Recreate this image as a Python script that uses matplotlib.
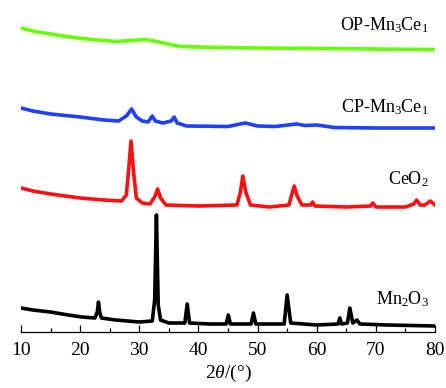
import matplotlib
matplotlib.use("Agg")
import matplotlib.pyplot as plt
from matplotlib.ticker import MultipleLocator

plt.rcParams["font.family"] = ["Liberation Serif", "DejaVu Serif"]
plt.rcParams["mathtext.fontset"] = "custom"
plt.rcParams["mathtext.rm"] = "Liberation Serif"
plt.rcParams["mathtext.it"] = "Liberation Serif:italic"

# 2theta positions / stacked intensities (a.u.)
mn2o3_x = [10, 11, 12, 13.5, 15, 16.5, 18, 20.3, 22.5, 22.9, 23.1, 23.3, 23.6, 26, 28, 30, 32.2,
           32.6, 32.9, 33.2, 33.6, 35, 37.7, 38.1, 38.5, 42, 44.7, 45.05, 45.4, 48.9, 49.3,
           49.7, 54.5, 55.0, 55.6, 60, 63.6, 63.9, 64.2, 65.2, 65.6, 66.1, 66.8, 67.3, 72, 80]
mn2o3_y = [24, 23, 22, 21, 20, 18.5, 17, 15, 14, 20, 30, 20, 14, 12, 11, 10, 11,
           32, 117, 27, 12, 9, 9, 28, 9, 8, 8, 17, 8, 8, 19,
           8, 8, 37, 9, 7, 8, 14, 8, 9, 24, 9, 12, 8, 7, 6]

ceo2_x = [10, 11, 12, 13.5, 15, 17.5, 20, 22, 24, 27, 27.8, 28.2, 28.6, 29.0, 29.5, 30.5, 31.8,
          32.6, 33.1, 33.6, 34.5, 40, 46.5, 47.1, 47.5, 48.0, 48.8, 52, 55.3, 55.8, 56.2,
          56.7, 57.5, 59.0, 59.3, 59.7, 65, 69.1, 69.5, 70, 75, 76.4, 76.9, 77.5, 78.3,
          79.2, 80]
ceo2_y = [144, 142.5, 141, 139.5, 138, 136, 134, 133, 132, 131, 137, 162, 191, 162, 134, 129,
          128, 135, 143, 134, 127, 126, 127, 140, 156, 140, 127, 125, 127, 138, 146,
          136, 127, 127, 130, 126, 125, 126, 129, 125, 125, 128, 132, 127, 127,
          131, 127]

cp_x = [10, 11, 12, 13.5, 15, 17.5, 20, 22, 24, 26.5, 27.8, 28.7, 29.5, 30.5, 31.5, 32.2, 32.7,
        34.0, 35.4, 35.9, 36.4, 38, 45, 47.9, 50, 53, 56.6, 58, 60, 63, 70, 80]
cp_y = [224, 222.5, 221, 219.5, 218, 216.5, 215, 213.5, 212, 211, 216, 223, 215, 211, 210,
        216, 211, 209, 211, 215, 209, 206, 205.5, 209, 206, 205.5, 208, 206.5, 207,
        204.5, 204, 204]

op_x = [10, 11, 12, 13.3, 14.6, 17, 20.3, 23, 26, 28.5, 31, 32.5, 34.4, 37, 40, 45, 50, 60,
        70, 80]
op_y = [304, 302.5, 301, 299.5, 298.5, 296, 293.5, 292, 290.5, 291.5, 292.5, 291, 288.5,
        285.5, 285, 284.5, 284, 283.5, 283, 282.5]

sample_labels = ["OP-Mn$_3$Ce$_1$", "CP-Mn$_3$Ce$_1$", "CeO$_2$", "Mn$_2$O$_3$"]
label_heights = [302, 220, 148, 28]


def main() -> None:
    fig = plt.figure(figsize=(4.46, 3.88), dpi=100)
    ax = fig.add_axes([21 / 446, 56 / 388, 414 / 446, 332 / 388])

    traces = [
        (op_x, op_y, "#66ff00"),
        (cp_x, cp_y, "#1f40ff"),
        (ceo2_x, ceo2_y, "#ff1010"),
        (mn2o3_x, mn2o3_y, "#000000"),
    ]
    for x, y, color in traces:
        ax.plot(x, y, color=color, linewidth=2.6, solid_joinstyle="round")

    for text, height in zip(sample_labels, label_heights):
        ax.text(79.0, height, text, ha="right", va="baseline", fontsize=13)

    ax.set_xlim(10, 80)
    ax.set_ylim(0, 332)
    for side in ["left", "right", "top"]:
        ax.spines[side].set_visible(False)
    ax.spines["bottom"].set_linewidth(0.9)
    ax.set_yticks([])
    ax.xaxis.set_major_locator(MultipleLocator(10))
    ax.xaxis.set_minor_locator(MultipleLocator(5))
    ax.tick_params(axis="x", which="major", direction="in", length=5, width=0.9, labelsize=14, pad=7)
    ax.tick_params(axis="x", which="minor", direction="in", length=3, width=0.9)
    ax.set_xlabel(r"2$\theta$/(°)", fontsize=14, labelpad=3)

    fig.savefig("out.png", dpi=100)


main()
